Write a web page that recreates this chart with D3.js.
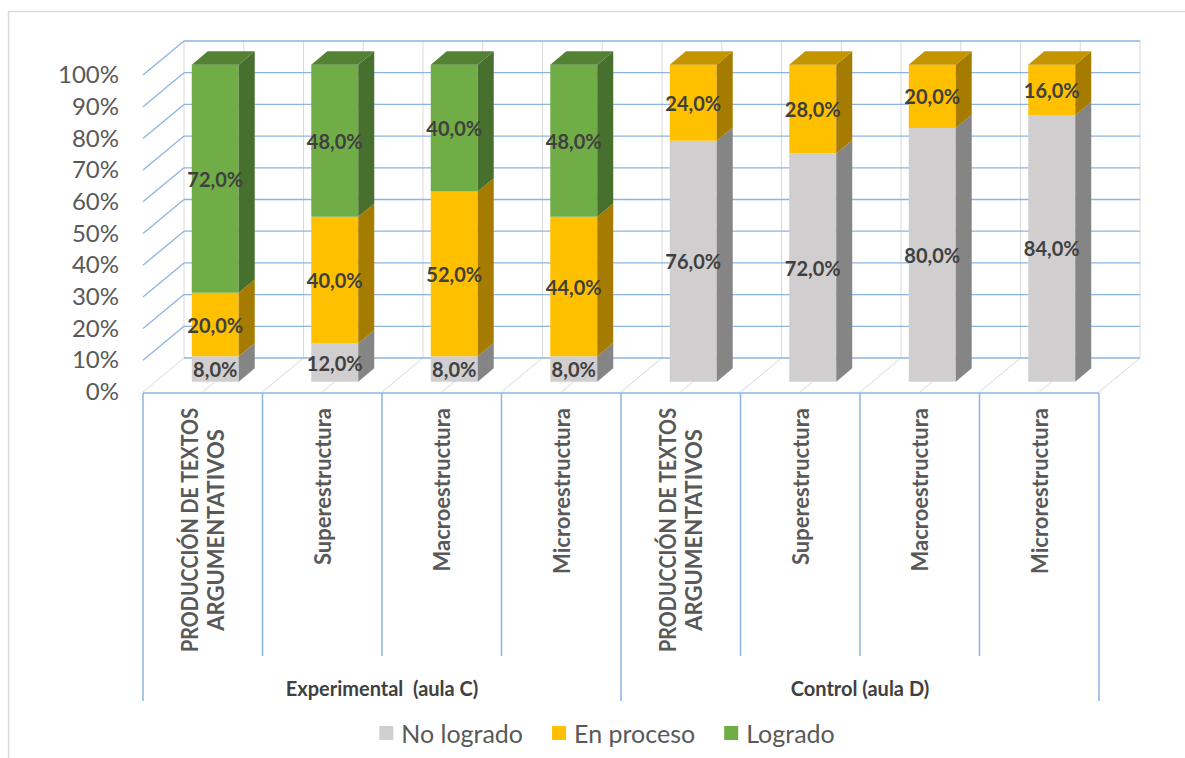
<!DOCTYPE html>
<html>
<head>
<meta charset="utf-8">
<script src="https://cdn.jsdelivr.net/npm/d3@7"></script>
<style>
  body { margin: 0; background: #fff; }
  text { font-family: Lato, "Open Sans", sans-serif; }
</style>
</head>
<body>
<svg width="1185" height="758"></svg>
<script>
// Data
const categories = [
  "PRODUCCIÓN DE TEXTOS\nARGUMENTATIVOS", "Superestructura", "Macroestructura", "Microrestructura",
  "PRODUCCIÓN DE TEXTOS\nARGUMENTATIVOS", "Superestructura", "Macroestructura", "Microrestructura"
];
const groups = ["Experimental  (aula C)", "Control (aula D)"];
const seriesNames = ["No logrado", "En proceso", "Logrado"];
const noLogrado = [8, 12, 8, 8, 76, 72, 80, 84];
const enProceso = [20, 40, 52, 44, 24, 28, 20, 16];
const logrado   = [72, 48, 40, 48, 0, 0, 0, 0];
const yTicks = [0, 10, 20, 30, 40, 50, 60, 70, 80, 90, 100];

// Colours per series: front, side, top
const frontColors = ["#d0cece", "#ffc000", "#70ad47"];
const sideColors  = ["#858585", "#a67c00", "#476f2d"];
const topColors   = ["#a8a6a6", "#c59500", "#548235"];
const gridBlue = "#8db4e2";
const gridGray = "#d9d9d9";

const svg = d3.select("svg");

// outer chart frame
svg.append("rect")
  .attr("x", 8.5).attr("y", 11.5)
  .attr("width", 1200).attr("height", 800)
  .attr("fill", "none")
  .attr("stroke", "#d9d9d9")
  .attr("stroke-width", 1.5);

// Scales (front plane of the 3D box)
const x = d3.scaleBand().domain(d3.range(categories.length)).range([143, 1099]).padding(0);
const y = d3.scaleLinear().domain([0, 100]).range([392, 75]);
const bw = x.bandwidth();
const depth = { x: 41, y: 34 };
const P = (px, py, d) => [px + depth.x * d, py - depth.y * d];
const line = (a, b) => `M${a[0]},${a[1]}L${b[0]},${b[1]}`;

const walls = svg.append("g").attr("fill", "none");

// light gray lines on back wall and floor (every half category)
const halfSteps = d3.range(categories.length * 2 + 1).map(k => 143 + k * bw / 2);
halfSteps.forEach(xk => {
  walls.append("path").attr("d", line(P(xk, y(0), 1), P(xk, y(100), 1)))
    .attr("stroke", gridGray).attr("stroke-width", 1);
  walls.append("path").attr("d", line(P(xk, y(0), 0), P(xk, y(0), 1)))
    .attr("stroke", gridGray).attr("stroke-width", 1);
});

// blue gridlines: back wall + left side wall
yTicks.forEach(t => {
  walls.append("path").attr("d", line(P(143, y(t), 1), P(1099, y(t), 1)))
    .attr("stroke", gridBlue).attr("stroke-width", 1.3);
  if (t > 0) {
    walls.append("path").attr("d", line(P(143, y(t), 0), P(143, y(t), 1)))
      .attr("stroke", gridBlue).attr("stroke-width", 1.3);
  }
});

// Stacked bars
const rows = categories.map((c, i) => [noLogrado[i], enProceso[i], logrado[i]]);
const stacked = d3.stack().keys([0, 1, 2]).value((d, k) => d[k])(rows);
const barW = bw * 0.393;
const d0 = 0.305, d1 = 0.695;
const fmt = v => d3.format(".1f")(v).replace(".", ",") + "%";
const poly = pts => pts.map(p => p.join(",")).join(" ");

const bars = svg.append("g");
const labels = [];
categories.forEach((c, i) => {
  const xl = x(i) + bw / 2 - barW / 2;
  const xr = xl + barW;
  const topIdx = d3.max([0, 1, 2].filter(s => rows[i][s] > 0));
  [0, 1, 2].forEach(s => {
    const [lo, hi] = stacked[s][i];
    if (hi - lo <= 0) return;
    bars.append("polygon")
      .attr("points", poly([P(xl, y(hi), d0), P(xr, y(hi), d0), P(xr, y(lo), d0), P(xl, y(lo), d0)]))
      .attr("fill", frontColors[s]);
    bars.append("polygon")
      .attr("points", poly([P(xr, y(hi), d0), P(xr, y(hi), d1), P(xr, y(lo), d1), P(xr, y(lo), d0)]))
      .attr("fill", sideColors[s]);
    if (s === topIdx) {
      bars.append("polygon")
        .attr("points", poly([P(xl, y(hi), d0), P(xl, y(hi), d1), P(xr, y(hi), d1), P(xr, y(hi), d0)]))
        .attr("fill", topColors[s]);
    }
    const c0 = P((xl + xr) / 2, y((lo + hi) / 2), d0);
    labels.push({ x: c0[0], y: c0[1], text: fmt(hi - lo) });
  });
});

// data labels
svg.append("g").selectAll("text")
  .data(labels)
  .join("text")
  .attr("x", d => d.x)
  .attr("y", d => d.y)
  .attr("text-anchor", "middle")
  .attr("dominant-baseline", "central")
  .attr("font-size", 20)
  .attr("font-weight", "bold")
  .attr("fill", "#404040")
  .text(d => d.text);

// Y axis (labels at the front edge)
const yAxis = svg.append("g")
  .attr("transform", "translate(121,0)")
  .call(d3.axisLeft(y).tickValues(yTicks).tickFormat(d => d + "%").tickSize(0).tickPadding(2));
yAxis.select(".domain").remove();
yAxis.selectAll("text")
  .attr("font-family", "Lato, sans-serif")
  .attr("font-size", 24)
  .attr("fill", "#595959");

// Category axis
svg.append("line")
  .attr("x1", 143).attr("x2", 1099)
  .attr("y1", y(0) + 1).attr("y2", y(0) + 1)
  .attr("stroke", gridBlue).attr("stroke-width", 1.5);

d3.range(categories.length + 1).forEach(i => {
  const xi = 143 + i * bw;
  svg.append("line")
    .attr("x1", xi).attr("x2", xi)
    .attr("y1", y(0) + 1).attr("y2", i % 4 === 0 ? 701 : 656)
    .attr("stroke", gridBlue).attr("stroke-width", 1.5);
});

// Category labels, rotated
const maxLabelLen = 244;
categories.forEach((c, i) => {
  const parts = c.split("\n");
  const cx = x(i) + bw / 2;
  const g = svg.append("g");
  const t = g.append("text")
    .attr("text-anchor", "middle")
    .attr("font-size", 22)
    .attr("font-weight", "bold")
    .attr("fill", "#595959");
  parts.forEach((p, j) => {
    t.append("tspan")
      .attr("x", 0)
      .attr("y", (j - (parts.length - 1) / 2) * 26)
      .attr("dominant-baseline", "central")
      .text(p);
  });
  // squeeze lines that are longer than the reference allows
  t.selectAll("tspan").each(function () {
    const len = this.getComputedTextLength();
    if (len > maxLabelLen) d3.select(this).attr("textLength", maxLabelLen).attr("lengthAdjust", "spacingAndGlyphs");
  });
  const L = d3.min([maxLabelLen, d3.max(t.selectAll("tspan").nodes(), n => n.getComputedTextLength())]);
  g.attr("transform", `translate(${cx},${408 + L / 2}) rotate(-90)`);
});

// Group labels
groups.forEach((gname, k) => {
  svg.append("text")
    .attr("x", x(k * 4) + bw * 2)
    .attr("y", 688)
    .attr("text-anchor", "middle")
    .attr("dominant-baseline", "central")
    .attr("font-size", 20)
    .attr("font-weight", "bold")
    .attr("fill", "#404040")
    .style("white-space", "pre")
    .text(gname);
});

// Legend
const legend = svg.append("g");
let lx = 0;
seriesNames.forEach((name, s) => {
  const item = legend.append("g").attr("transform", `translate(${lx},0)`);
  item.append("rect")
    .attr("x", 0).attr("y", -7)
    .attr("width", 14).attr("height", 14)
    .attr("fill", frontColors[s]);
  const t = item.append("text")
    .attr("x", 22).attr("y", 0)
    .attr("dominant-baseline", "central")
    .attr("font-size", 25)
    .attr("fill", "#595959")
    .text(name);
  lx += 22 + t.node().getComputedTextLength() + 29;
});
const legendW = lx - 29;
legend.attr("transform", `translate(${607 - legendW / 2},733)`);
</script>
</body>
</html>
